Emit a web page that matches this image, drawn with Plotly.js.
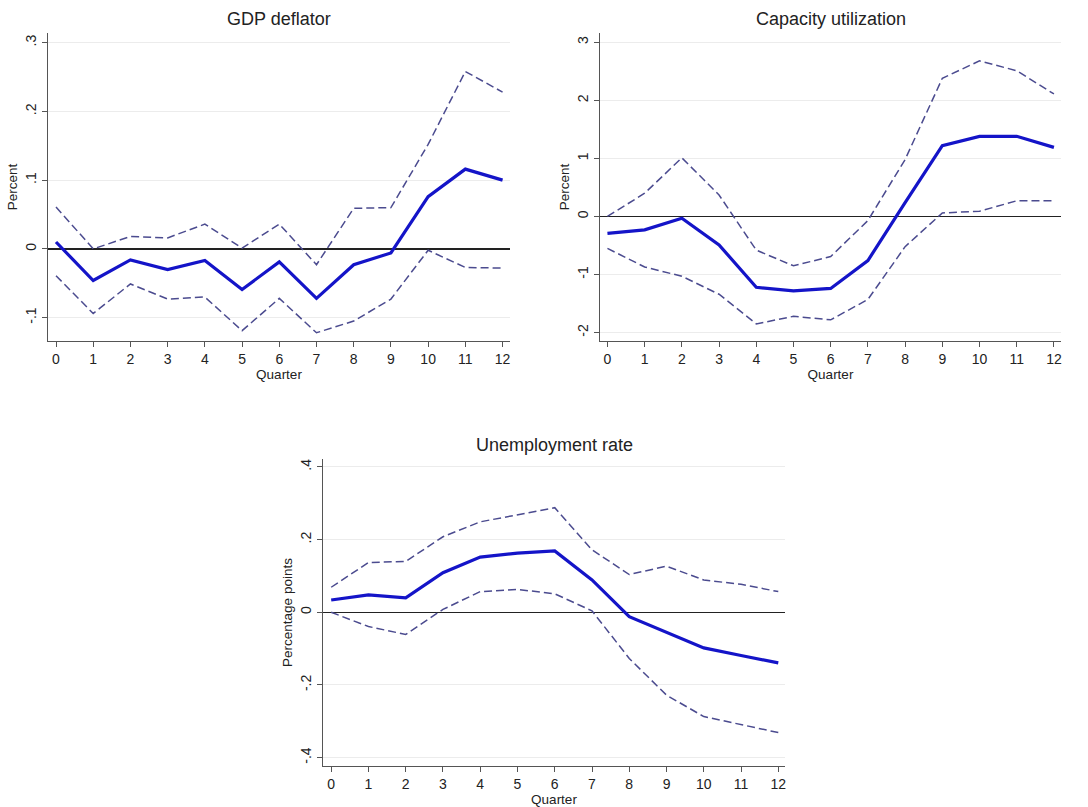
<!DOCTYPE html>
<html>
<head>
<meta charset="utf-8">
<script src="https://cdn.plot.ly/plotly-3.0.1.min.js"></script>
<style>
  html, body { margin: 0; padding: 0; background: #ffffff; }
  #chart { width: 1088px; height: 807px; }
</style>
</head>
<body>
<div id="chart"></div>
<script>
// Impulse responses over 0..12 quarters: point estimate with upper/lower bands
const quarters = [0, 1, 2, 3, 4, 5, 6, 7, 8, 9, 10, 11, 12];

const gdpEstimate = [0.010, -0.046, -0.016, -0.030, -0.017, -0.059, -0.019, -0.072, -0.023, -0.006, 0.076, 0.116, 0.100];
const gdpUpper    = [0.061, 0.000, 0.018, 0.016, 0.036, 0.001, 0.036, -0.023, 0.059, 0.060, 0.152, 0.258, 0.228];
const gdpLower    = [-0.039, -0.094, -0.051, -0.073, -0.070, -0.119, -0.072, -0.122, -0.105, -0.073, -0.002, -0.027, -0.028];

const capEstimate = [-0.29, -0.23, -0.03, -0.49, -1.22, -1.28, -1.24, -0.76, 0.24, 1.22, 1.38, 1.38, 1.19];
const capUpper    = [0.00, 0.40, 1.01, 0.37, -0.58, -0.85, -0.69, -0.07, 0.98, 2.38, 2.68, 2.51, 2.11];
const capLower    = [-0.55, -0.87, -1.03, -1.34, -1.85, -1.72, -1.78, -1.43, -0.52, 0.06, 0.09, 0.27, 0.27];

const unEstimate = [0.034, 0.048, 0.040, 0.109, 0.152, 0.163, 0.169, 0.089, -0.012, -0.054, -0.098, -0.119, -0.139];
const unUpper    = [0.069, 0.137, 0.140, 0.208, 0.249, 0.268, 0.288, 0.172, 0.104, 0.127, 0.089, 0.077, 0.057];
const unLower    = [0.000, -0.039, -0.061, 0.008, 0.057, 0.063, 0.051, 0.004, -0.127, -0.228, -0.287, -0.308, -0.331];

const panelTitles = ["GDP deflator", "Capacity utilization", "Unemployment rate"];
const yTitles = ["Percent", "Percent", "Percentage points"];
const yTickVals = [[-0.1, 0, 0.1, 0.2, 0.3], [-2, -1, 0, 1, 2, 3], [-0.4, -0.2, 0, 0.2, 0.4]];
const yTickText = [["-.1", "0", ".1", ".2", ".3"], ["-2", "-1", "0", "1", "2", "3"], ["-.4", "-.2", "0", ".2", ".4"]];

const W = 1088, H = 807;
const FONT = "Liberation Sans, Arial, sans-serif";
const SOLID = "#1414c8";
const DASH = "#4b4b8f";
const AXIS = "#555555";
const TEXT = "#222222";

// Plot boxes in pixels: [left, right, top, bottom] and value ranges
const boxes = [
  { px: [48, 510, 33, 341], xr: [-0.215, 12.2], yr: [-0.134, 0.314] },
  { px: [600, 1061, 33, 341], xr: [-0.2, 12.19], yr: [-2.145, 3.16] },
  { px: [323, 785, 459, 766], xr: [-0.22, 12.18], yr: [-0.423, 0.422] }
];

const series = [
  [gdpEstimate, gdpUpper, gdpLower],
  [capEstimate, capUpper, capLower],
  [unEstimate, unUpper, unLower]
];

const traces = [];
const layout = {
  width: W, height: H,
  margin: { l: 0, r: 0, t: 0, b: 0 },
  paper_bgcolor: "#ffffff",
  plot_bgcolor: "#ffffff",
  showlegend: false,
  font: { family: FONT, color: TEXT },
  annotations: []
};

boxes.forEach((b, i) => {
  const n = i + 1;
  const xa = n === 1 ? "x" : "x" + n;
  const ya = n === 1 ? "y" : "y" + n;
  const [est, up, lo] = series[i];

  traces.push({ x: quarters, y: up, xaxis: xa, yaxis: ya, mode: "lines",
    line: { color: DASH, width: 1.5, dash: "8px,4px" }, hoverinfo: "skip" });
  traces.push({ x: quarters, y: lo, xaxis: xa, yaxis: ya, mode: "lines",
    line: { color: DASH, width: 1.5, dash: "8px,4px" }, hoverinfo: "skip" });
  traces.push({ x: quarters, y: est, xaxis: xa, yaxis: ya, mode: "lines",
    line: { color: SOLID, width: 3.2 } });

  const [l, r, t, bt] = b.px;
  layout["xaxis" + (n === 1 ? "" : n)] = {
    domain: [l / W, r / W],
    anchor: ya,
    range: b.xr,
    tickvals: quarters,
    ticks: "outside", ticklen: 5, tickcolor: AXIS, tickwidth: 1,
    showline: true, linecolor: AXIS, linewidth: 1.2,
    showgrid: false, zeroline: false,
    tickfont: { family: FONT, size: 14, color: TEXT },
    title: { text: "Quarter", font: { family: FONT, size: 13.5, color: TEXT }, standoff: 1 }
  };
  layout["yaxis" + (n === 1 ? "" : n)] = {
    domain: [1 - bt / H, 1 - t / H],
    anchor: xa,
    range: b.yr,
    tickvals: yTickVals[i],
    ticktext: yTickText[i],
    tickangle: -90,
    ticks: "outside", ticklen: 5, tickcolor: AXIS, tickwidth: 1,
    showline: true, linecolor: AXIS, linewidth: 1.2,
    showgrid: true, gridcolor: "#ececec", gridwidth: 1,
    zeroline: true, zerolinecolor: "#222222", zerolinewidth: 1.3,
    tickfont: { family: FONT, size: 14, color: TEXT },
    title: { text: yTitles[i], font: { family: FONT, size: 13.5, color: TEXT }, standoff: 2 }
  };

  layout.annotations.push({
    text: panelTitles[i],
    xref: "paper", yref: "paper",
    x: ((l + r) / 2) / W, y: 1 - (t - 14) / H,
    xanchor: "center", yanchor: "middle",
    showarrow: false,
    font: { family: FONT, size: 18, color: TEXT }
  });
});

Plotly.newPlot("chart", traces, layout, { staticPlot: true, displayModeBar: false });
</script>
</body>
</html>
